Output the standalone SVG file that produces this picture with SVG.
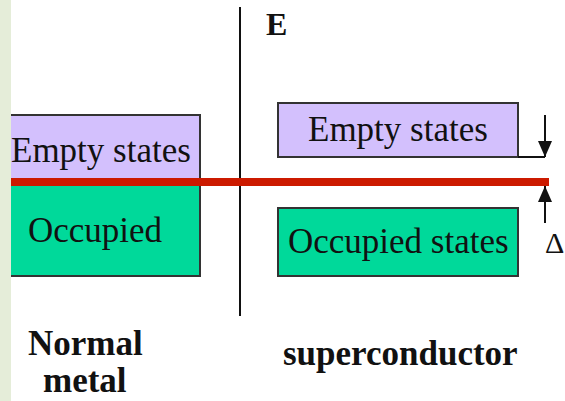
<svg xmlns="http://www.w3.org/2000/svg" width="565" height="401" viewBox="0 0 565 401">
<defs>
<style>
.box{stroke:#333;stroke-width:2}
.empty{fill:#d3c0fd}
.occ{fill:#00d99a}
.t{fill:#111;font-family:"Liberation Serif","Times New Roman",serif;font-size:35px}
.b{font-weight:bold}
.ln{stroke:#111;stroke-width:2;fill:none}
</style>
<marker id="ah" viewBox="0 0 16 14" refX="16" refY="7" markerWidth="16" markerHeight="14" markerUnits="userSpaceOnUse" orient="auto">
<path d="M0,0 L16,7 L0,14 Z" fill="#111"/>
</marker>
</defs>
<rect x="0" y="0" width="565" height="401" fill="#fff"/>
<g id="normal-metal">
<rect id="nm-empty" class="box empty" x="5" y="115" width="195" height="66"/>
<rect id="nm-occ" class="box occ" x="5" y="180" width="195" height="96"/>
<text class="t" x="11" y="162">Empty states</text>
<text class="t" x="28" y="242">Occupied</text>
<text class="t b" x="28" y="355">Normal</text>
<text class="t b" x="43" y="392">metal</text>
</g>
<g id="superconductor">
<rect id="sc-empty" class="box empty" x="278" y="103" width="240" height="54"/>
<rect id="sc-occ" class="box occ" x="278" y="208" width="240" height="68"/>
<text class="t" x="308" y="141">Empty states</text>
<text class="t" x="288" y="253">Occupied states</text>
<text class="t b" x="283" y="365">superconductor</text>
</g>
<g id="axis">
<line class="ln" x1="240" y1="7" x2="240" y2="316"/>
<text class="t b" x="266" y="35" style="font-size:32px">E</text>
</g>
<g id="connectors">
<line x1="0" y1="182" x2="549" y2="182" stroke="#cc1a00" stroke-width="8"/>
<line class="ln" x1="518" y1="157" x2="545" y2="157"/>
<line class="ln" x1="545" y1="115" x2="545" y2="157" marker-end="url(#ah)"/>
<line class="ln" x1="545" y1="223" x2="545" y2="186" marker-end="url(#ah)"/>
<text class="t" x="545" y="253" style="font-size:30px">Δ</text>
</g>
<rect x="0" y="0" width="11" height="401" fill="#e5edd9"/>
</svg>
